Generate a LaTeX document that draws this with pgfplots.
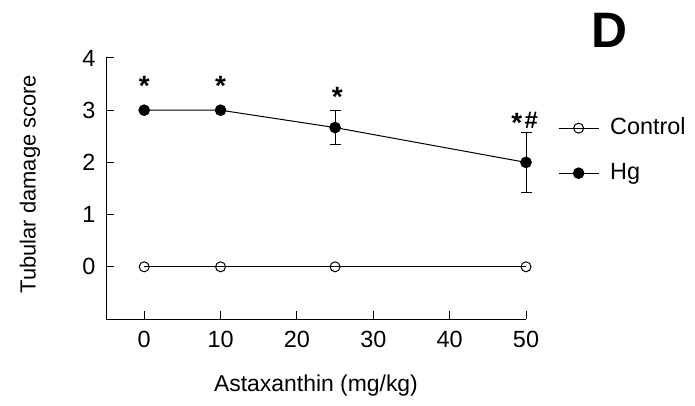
\documentclass[border=0pt]{standalone}
\usepackage{pgfplots}
\pgfplotsset{compat=1.18}
\usepackage{fontspec}
\setmainfont{Liberation Sans}
\begin{document}
\begin{tikzpicture}[x=1bp,y=1bp]
\useasboundingbox (0,0) rectangle (695,405);
\begin{axis}[
  at={(106bp,86bp)}, anchor=south west,
  scale only axis, width=420bp, height=261bp,
  xmin=-5, xmax=50, ymin=-1, ymax=4,
  axis x line*=bottom, axis y line*=left,
  xtick={0,10,20,30,40,50}, ytick={0,1,2,3,4},
  xtick pos=lower, ytick pos=left,
  tick align=inside, major tick length=8bp,
  every tick/.style={black, line width=1bp},
  axis line style={line width=1bp},
  /pgf/number format/assume math mode=true,
  ticklabel style={font=\fontsize{23.5}{27}\selectfont},
  xticklabel style={yshift=-9bp},
  yticklabel style={xshift=-7bp},
  xlabel={Astaxanthin (mg/kg)}, ylabel={Tubular damage score},
  xlabel style={font=\fontsize{23}{27}\selectfont, at={(axis description cs:0.5,0)}, anchor=center, yshift=-67bp},
  ylabel style={font=\fontsize{22}{26}\selectfont, at={(axis description cs:-0.181,0.517)}, anchor=center},
  clip=false,
  legend style={draw=none, fill=none, font=\fontsize{23.5}{27}\selectfont,
    at={(axis description cs:1.076,0.774)}, anchor=north west,
    inner sep=0pt, column sep=11bp, row sep=23bp,
    nodes={inner sep=0pt, text height=17bp, text depth=5bp}},
  legend cell align=left,
  legend image code/.code={\draw[mark repeat=2,mark phase=2,#1] plot coordinates {(0bp,0bp) (20bp,0bp) (40bp,0bp)};},
]
\addplot[black, line width=1bp, mark=o, mark size=5bp, mark options={fill=white, line width=1bp}]
  coordinates {(0,0) (10,0) (25,0) (50,0)};
\addlegendentry{Control}
\addplot[black, line width=1bp, mark=*, mark size=5.3bp,
  error bars/.cd, y dir=both, y explicit,
  error bar style={line width=1bp},
  error mark options={rotate=90, mark size=5.5bp, line width=1bp}]
  coordinates {(0,3) +- (0,0) (10,3) +- (0,0) (25,2.667) +- (0,0.333) (50,2) +- (0,0.577)};
\addlegendentry{Hg}
\node[anchor=base, font=\fontsize{28}{30}\selectfont\bfseries, inner sep=0pt] at (axis cs:0,3.29) {*};
\node[anchor=base, font=\fontsize{28}{30}\selectfont\bfseries, inner sep=0pt] at (axis cs:10,3.29) {*};
\node[anchor=base, font=\fontsize{28}{30}\selectfont\bfseries, inner sep=0pt] at (axis cs:25.3,3.07) {*};
\node[anchor=base, font=\fontsize{28}{30}\selectfont\bfseries, inner sep=0pt] at (axis cs:48.8,2.57) {*};
\node[anchor=base west, font=\fontsize{24}{27}\selectfont\bfseries, inner sep=0pt] at (axis cs:49.8,2.64) {\#};
\end{axis}
\node[font=\fontsize{50}{55}\selectfont\bfseries, inner sep=0pt] at (609,375) {D};
\end{tikzpicture}
\end{document}
